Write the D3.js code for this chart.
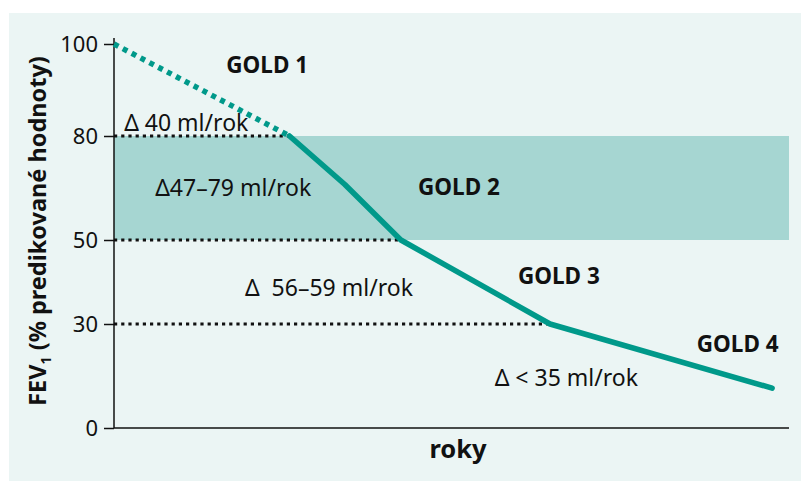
<!DOCTYPE html>
<html>
<head>
<meta charset="utf-8">
<script src="https://cdn.jsdelivr.net/npm/d3@7"></script>
<style>
  html, body { margin: 0; padding: 0; background: #fff; }
  svg { display: block; }
  text { font-family: 'Noto Sans', 'Open Sans', sans-serif; fill: #111; }
</style>
</head>
<body>
<svg width="801" height="481"></svg>
<script>
// values (x = relative time, y = FEV1 % predicted)
const years = [0, 26, 34.2, 42.5, 64.6, 97.5]
const fev = [100, 80, 66, 50, 30, 11.5]
const yTicks = [0, 30, 50, 80, 100]
const thresholds = [80, 50, 30]
const band = [50, 80]
const goldLabels = ['GOLD 1', 'GOLD 2', 'GOLD 3', 'GOLD 4']
const rateLabels = ['\u0394 40 ml/rok', '\u039447\u201379 ml/rok', '\u0394  56\u201359 ml/rok', '\u0394 < 35 ml/rok']

// label anchors in data units
const goldPos = [[22.7, 93.7], [51.1, 63], [65.9, 39.5], [92.4, 21.9]]
const ratePos = [[1.5, 81.1], [6.1, 62.7], [19.4, 36.7], [56.4, 12.1]]

const teal = '#00998a'
const svg = d3.select('svg')

svg.append('rect')
  .attr('x', 9).attr('y', 13).attr('width', 792).attr('height', 468)
  .attr('fill', '#ebf5f4')

// schematic, non-uniform vertical scale
const y = d3.scaleLinear().domain(yTicks).range([428, 324, 240, 136, 44])
const x = d3.scaleLinear().domain([0, 100]).range([114, 789])

const pts = years.map((d, i) => ({ x: d, y: fev[i] }))
const line = d3.line().x(d => x(d.x)).y(d => y(d.y))

svg.append('rect')
  .attr('x', x(0)).attr('y', y(band[1]))
  .attr('width', x(100) - x(0)).attr('height', y(band[0]) - y(band[1]))
  .attr('fill', '#a6d6d2')

// dotted thresholds from axis to the curve
thresholds.forEach(t => {
  const p = pts.find(d => d.y === t)
  svg.append('line')
    .attr('x1', x(0)).attr('x2', x(p.x))
    .attr('y1', y(t)).attr('y2', y(t))
    .attr('stroke', '#111').attr('stroke-width', 3.2)
    .attr('stroke-dasharray', '3.2,4')
})

// axes
const yAxis = d3.axisLeft(y).tickValues(yTicks).tickSize(10).tickPadding(6)
const gy = svg.append('g').attr('transform', `translate(${x(0)},0)`).call(yAxis)
gy.select('.domain').remove()
gy.selectAll('line').attr('stroke', '#111').attr('stroke-width', 1.5)
gy.selectAll('text').attr('font-size', 22).attr('fill', '#111')
  .style('font-family', "'Noto Sans', sans-serif")

svg.append('line')
  .attr('x1', x(0)).attr('x2', x(0)).attr('y1', 38).attr('y2', y(0))
  .attr('stroke', '#111').attr('stroke-width', 1.5)
svg.append('line')
  .attr('x1', x(0)).attr('x2', x(100)).attr('y1', y(0)).attr('y2', y(0))
  .attr('stroke', '#111').attr('stroke-width', 1.5)

// curve: dotted before GOLD 2, solid afterwards
svg.append('path').datum(pts.slice(0, 2))
  .attr('d', line).attr('fill', 'none')
  .attr('stroke', teal).attr('stroke-width', 5.5)
  .attr('stroke-dasharray', '5,5')
svg.append('path').datum(pts.slice(1))
  .attr('d', line).attr('fill', 'none')
  .attr('stroke', teal).attr('stroke-width', 5.5)
  .attr('stroke-linecap', 'round').attr('stroke-linejoin', 'round')

svg.selectAll('text.gold').data(goldLabels).enter().append('text')
  .attr('class', 'gold')
  .attr('x', (d, i) => x(goldPos[i][0]))
  .attr('y', (d, i) => y(goldPos[i][1]))
  .attr('text-anchor', 'middle')
  .attr('font-size', 22.5).attr('font-weight', 'bold')
  .text(d => d)

svg.selectAll('text.rate').data(rateLabels).enter().append('text')
  .attr('class', 'rate')
  .attr('x', (d, i) => x(ratePos[i][0]))
  .attr('y', (d, i) => y(ratePos[i][1]))
  .attr('font-size', 23)
  .style('white-space', 'pre')
  .text(d => d)

svg.append('text')
  .attr('x', 458).attr('y', 458)
  .attr('text-anchor', 'middle')
  .attr('font-size', 25.5).attr('font-weight', 'bold')
  .text('roky')

const yl = svg.append('text')
  .attr('transform', 'translate(46,231) rotate(-90)')
  .attr('text-anchor', 'middle')
  .attr('font-size', 23.5).attr('font-weight', 'bold')
yl.append('tspan').text('FEV')
yl.append('tspan').attr('font-size', 14).attr('dy', 5).text('1')
yl.append('tspan').attr('dy', -5).text(' (% predikované hodnoty)')
</script>
</body>
</html>
